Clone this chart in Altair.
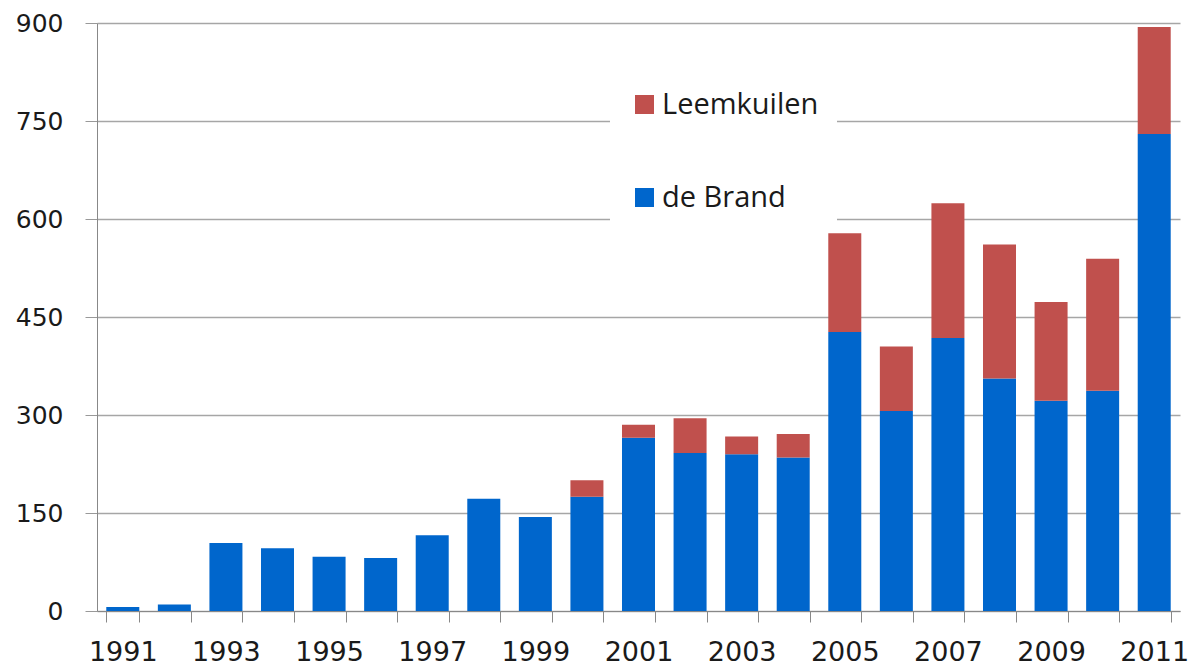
import altair as alt
import pandas as pd

years = [str(y) for y in range(1991, 2012)]
de_brand = [6, 10, 104, 96, 83, 81, 116, 172, 144, 175, 265, 242, 240, 235, 427, 306, 418, 356, 322, 337, 730]
leemkuilen = [0, 0, 0, 0, 0, 0, 0, 0, 0, 25, 20, 53, 27, 36, 151, 99, 206, 205, 151, 202, 164]
series = ["Leemkuilen", "de Brand"]
colors = ["#C0504D", "#0066CC"]
y_ticks = [0, 150, 300, 450, 600, 750, 900]

rows = []
for i, y in enumerate(years):
    rows.append({"year": y, "series": "de Brand", "value": de_brand[i], "ord": 0})
    rows.append({"year": y, "series": "Leemkuilen", "value": leemkuilen[i], "ord": 1})
df = pd.DataFrame(rows)

chart = alt.Chart(df).mark_bar().encode(
    x=alt.X("year:N", sort=years,
            scale=alt.Scale(paddingInner=0.36, paddingOuter=0.18),
            axis=alt.Axis(title=None, labelAngle=0, tickBand="extent",
                          labelExpr="toNumber(datum.value) % 2 == 1 ? datum.label : ''",
                          labelFont="DejaVu Sans", labelFontSize=27, labelColor="#1a1a1a",
                          tickSize=11, tickColor="#888888", domainColor="#888888",
                          labelPadding=17, grid=False)),
    y=alt.Y("value:Q", stack="zero",
            scale=alt.Scale(domain=[0, 900], nice=False),
            axis=alt.Axis(title=None, values=y_ticks, labelFont="DejaVu Sans",
                          labelFontSize=25, labelColor="#1a1a1a", tickSize=12,
                          tickColor="#999999", domainColor="#888888",
                          gridColor="#a6a6a6", gridWidth=1.3, labelPadding=22)),
    color=alt.Color("series:N",
                    scale=alt.Scale(domain=series, range=colors),
                    legend=alt.Legend(title=None, orient="none", legendX=513, legendY=49,
                                      fillColor="white", padding=18,
                                      symbolType="square", symbolSize=361,
                                      symbolOffset=2,
                                      symbolStrokeWidth=0, labelFont="Open Sans",
                                      labelFontSize=29, labelColor="#1a1a1a",
                                      rowPadding=63, labelOffset=3)),
    order=alt.Order("ord:Q"),
).properties(
    width=1083, height=588,
    autosize=alt.AutoSizeParams(type="none"),
    padding={"left": 89, "top": 15, "right": 8, "bottom": 59},
).configure_view(stroke=None)

chart.save("out.html", embed_options={"renderer": "svg", "actions": False})
